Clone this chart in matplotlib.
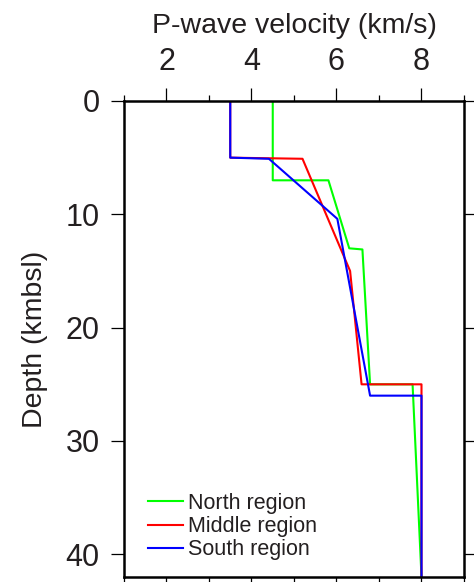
import matplotlib

matplotlib.use('Agg')
import matplotlib.pyplot as plt

plt.rcParams['font.family'] = ['Liberation Sans', 'DejaVu Sans']

# velocity (km/s) and depth (kmbsl) profiles
north_v = [4.5, 4.5, 5.81, 6.30, 6.61, 6.79, 7.79, 8.0]
north_d = [0, 7.0, 7.0, 13.0, 13.1, 25.0, 25.0, 42]

middle_v = [3.5, 3.5, 5.2, 6.32, 6.59, 8.0, 8.0]
middle_d = [0, 5.0, 5.1, 15.0, 25.0, 25.0, 42]

south_v = [3.5, 3.5, 4.41, 6.02, 6.79, 8.0, 8.0]
south_d = [0, 5.0, 5.1, 10.4, 26.0, 26.0, 42]

text_color = '#231f20'

fig = plt.figure(figsize=(4.74, 5.82), dpi=100)
ax = fig.add_axes([0.2616, 0.0086, 0.7173, 0.8179])

ax.plot(north_v, north_d, color='#00ff00', lw=1.5, label='North region')
ax.plot(middle_v, middle_d, color='#ff0000', lw=1.5, label='Middle region')
ax.plot(south_v, south_d, color='#0000ff', lw=1.5, label='South region')

ax.set_xlim(1, 9)
ax.set_ylim(42, 0)

ax.xaxis.tick_top()
ax.xaxis.set_label_position('top')
ax.set_xticks([2, 4, 6, 8])
ax.set_xticks([1, 3, 5, 7, 9], minor=True)
ax.set_yticks([0, 10, 20, 30, 40])

ax.tick_params(axis='both', which='major', direction='out', length=9.5, width=0.9,
               labelsize=22, colors='black', labelcolor=text_color)
ax.tick_params(axis='x', which='both', top=True, bottom=True)
ax.tick_params(axis='x', which='major', pad=8)
ax.tick_params(axis='x', which='minor', direction='out', length=4, width=0.9)
ax.tick_params(axis='y', which='major', left=True, right=True, pad=8)

for side in ax.spines.values():
    side.set_linewidth(1.8)

ax.set_xlabel('P-wave velocity (km/s)', fontsize=20.5, color=text_color, labelpad=10)
ax.set_ylabel('Depth (kmbsl)', fontsize=20.5, color=text_color, labelpad=13)

leg = ax.legend(loc='lower left', bbox_to_anchor=(0.045, 0.017), frameon=False,
                fontsize=15.5, handlelength=1.63, handletextpad=0.23,
                labelspacing=0.1, borderaxespad=0.0)
for t in leg.get_texts():
    t.set_color(text_color)

plt.savefig('out.png', dpi=100)
plt.close(fig)
